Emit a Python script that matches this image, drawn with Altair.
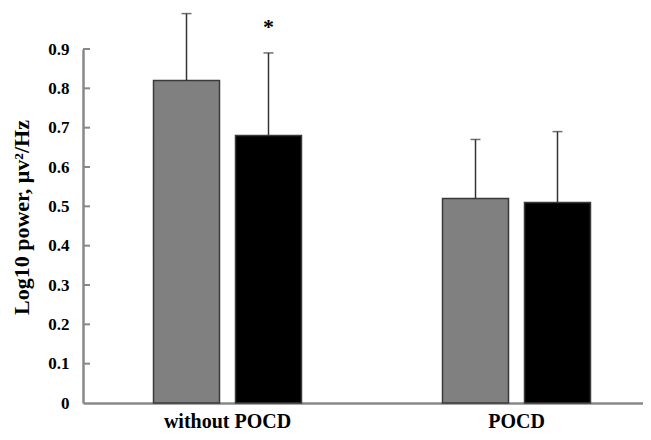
import altair as alt
import pandas as pd

groups = ["without POCD", "without POCD", "POCD", "POCD"]
conditions = ["A", "B", "A", "B"]
means = [0.82, 0.68, 0.52, 0.51]
upper = [0.99, 0.89, 0.67, 0.69]
colors = ["#808080", "#000000"]
yticks = [0.1, 0.2, 0.3, 0.4, 0.5, 0.6, 0.7, 0.8, 0.9]
star_group = ["without POCD"]
star_cond = ["B"]
star_y = [0.955]

df = pd.DataFrame({"group": groups, "cond": conditions, "mean": means, "upper": upper})
star_df = pd.DataFrame({"group": star_group, "cond": star_cond, "y": star_y, "t": ["*"]})
tick_df = pd.DataFrame({"v": yticks})

FONT = "Liberation Serif"
order = ["without POCD", "POCD"]

x = alt.X("group:N", sort=order,
          scale=alt.Scale(paddingInner=0, paddingOuter=0, range=[0, 578]),
          axis=alt.Axis(title=None, labelFont=FONT, labelFontSize=20, labelFontWeight="bold",
                        labelColor="#000", ticks=False, labelPadding=8, domainColor="#888",
                        domainWidth=2.5, labelAngle=0))
xo = alt.XOffset("cond:N", scale=alt.Scale(paddingInner=0.195, paddingOuter=0.86))
yscale = alt.Scale(domain=[0, 0.9], nice=False, zero=True)
yaxis = alt.Axis(title="Log10 power, μv²/Hz", titleFont=FONT, titleFontSize=22,
                 titleFontWeight="bold", titleColor="#000", titlePadding=14, titleY=168,
                 labelFont=FONT, labelFontSize=17, labelFontWeight="bold",
                 labelColor="#000", values=[0] + yticks, ticks=False,
                 labelOverlap=False, labelPadding=14, domainColor="#888",
                 domainWidth=2.5, grid=False,
                 labelExpr="datum.value == 0 ? '0' : format(datum.value, '.1f')")

bars = alt.Chart(df).mark_bar(stroke="#3a3a3a", strokeWidth=1.5).encode(
    x=x, xOffset=xo,
    y=alt.Y("mean:Q", scale=yscale, axis=yaxis),
    color=alt.Color("cond:N", scale=alt.Scale(domain=["A", "B"], range=colors), legend=None),
)

err = alt.Chart(df).mark_rule(color="#333", strokeWidth=1.5).encode(
    x=alt.X("group:N", sort=order), xOffset=xo,
    y=alt.Y("mean:Q", scale=yscale, axis=yaxis), y2="upper:Q",
)
caps = alt.Chart(df).mark_tick(color="#333", thickness=1.5, size=10, orient="horizontal").encode(
    x=alt.X("group:N", sort=order), xOffset=xo,
    y=alt.Y("upper:Q", scale=yscale, axis=yaxis),
)
star = alt.Chart(star_df).mark_text(font=FONT, fontSize=22, fontWeight="bold", color="#000",
                                    baseline="middle").encode(
    x=alt.X("group:N", sort=order), xOffset=xo,
    y=alt.Y("y:Q", scale=yscale, axis=yaxis), text="t:N",
)
ticks = alt.Chart(tick_df).mark_rule(color="#888", strokeWidth=2).encode(
    x=alt.value(0), x2=alt.value(7), y=alt.Y("v:Q", scale=yscale, axis=yaxis),
)

chart = alt.layer(bars, err, caps, star, ticks).properties(
    width=560, height=354,
    autosize=alt.AutoSizeParams(type="none"),
    padding={"left": 75, "top": 41, "right": 0, "bottom": 30},
).configure_view(stroke=None).configure_axisY(labelOverlap=False)

chart.save("out.html", embed_options={"renderer": "svg", "actions": False})
